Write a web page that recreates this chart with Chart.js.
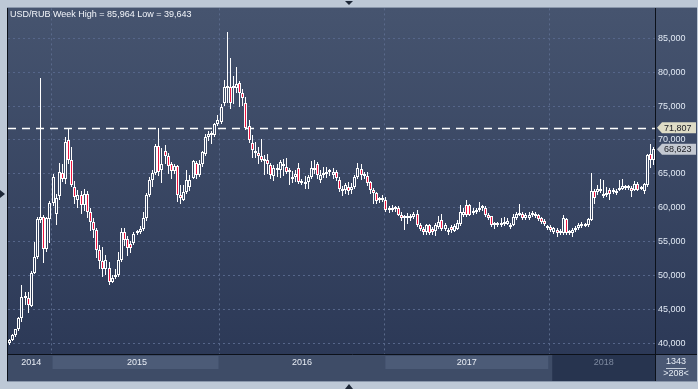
<!DOCTYPE html>
<html>
<head>
<meta charset="utf-8">
<script src="https://cdn.jsdelivr.net/npm/chart.js@4.4.1/dist/chart.umd.min.js"></script>
<style>
  html, body { margin: 0; padding: 0; background: #bdc8d6; }
  #wrap { position: relative; width: 698px; height: 389px; }
</style>
</head>
<body>
<div id="wrap"><canvas id="chartcontainer" width="698" height="389"></canvas></div>
<script>
// weekly USD/RUB candles (oct 2014 -> aug 2018)
var openPrices = [
  40.0, 40.5, 41.2, 42.0, 43.7, 46.6, 46.7, 45.4, 50.4, 52.7, 58.2, 58.6, 53.9, 58.3,
  60.7, 59.0, 61.7, 65.1, 64.2, 70.0, 67.0, 63.1, 61.2, 61.8, 60.4, 62.0, 59.4, 57.9, 56.7, 53.7,
  52.1, 50.9, 51.1, 49.05, 49.7, 50.0, 52.3, 56.4, 55.3, 54.6, 54.8, 56.2, 56.4, 56.9, 58.4, 61.8,
  64.05, 65.1, 69.06, 65.5, 68.4, 67.6, 66.5, 65.4, 66.1, 61.8, 61.2, 62.3, 63.0, 64.4, 66.6, 64.8,
  66.4, 67.9, 70.4, 70.9, 70.8, 72.3,
  72.7, 75.4, 77.7, 77.8, 77.6, 77.6, 78.4, 77.0, 75.4, 72.1, 69.6, 68.2, 68.1, 67.7, 66.9, 67.1,
  66.3, 64.6, 65.6, 65.6, 66.5, 66.0, 65.5, 64.5, 64.5, 65.8, 63.6, 63.8, 63.8, 64.5, 65.9, 66.5,
  64.1, 64.8, 65.0, 65.5, 64.8, 65.3, 64.05, 62.8, 62.6, 63.1, 62.6, 63.1, 64.5, 65.7, 64.7, 64.7,
  63.8, 62.6, 62.1, 61.1, 61.2,
  61.1, 59.6, 59.6, 59.8, 60.0, 58.9, 58.4, 58.4, 58.55, 58.6, 59.1, 57.4, 56.9, 56.4, 57.4, 56.9,
  56.6, 57.2, 58.2, 56.9, 56.7, 57.2, 56.6, 56.9, 57.6, 58.9, 60.4, 60.4, 59.2, 59.4, 59.6, 59.9,
  59.9, 58.9, 58.7, 57.5, 57.4, 57.6, 57.6, 57.6, 57.5, 57.5, 58.4, 58.9, 59.1, 58.4, 58.5, 58.9,
  59.1, 58.9, 58.4, 58.05, 57.26,
  57.16, 56.42, 56.77, 56.57, 56.18, 58.25, 56.42, 56.27, 56.67, 56.92, 57.26, 57.56, 57.41, 58.15,
  62.47, 62.33, 62.47, 61.99, 61.84, 62.57, 62.3, 62.1, 62.67, 62.82, 63.1, 62.9, 62.97, 62.67,
  63.56, 62.82, 62.47, 63.31, 67.9, 67.1
];
var highPrices = [
  40.6, 41.3, 42.1, 43.9, 48.6, 47.5, 47.5, 50.6, 54.9, 58.6, 79.2, 58.9, 58.6, 61.0,
  65.0, 62.0, 66.6, 66.5, 70.4, 71.8, 69.0, 64.0, 62.6, 62.5, 62.8, 62.5, 60.0, 58.5, 57.0, 54.5,
  54.2, 53.0, 52.0, 50.0, 51.0, 53.5, 57.0, 57.0, 55.8, 55.0, 56.4, 56.7, 57.3, 59.4, 62.2, 64.5,
  65.5, 69.4, 71.8, 68.8, 69.3, 68.0, 66.8, 66.5, 66.3, 63.3, 63.3, 65.5, 64.8, 67.0, 66.9, 67.0,
  68.4, 70.9, 71.3, 71.3, 72.5, 73.7,
  75.3, 78.8, 85.964, 82.15, 79.5, 80.8, 78.7, 77.5, 76.3, 72.9, 70.8, 69.7, 69.0, 70.2, 67.8, 67.9,
  66.6, 66.3, 66.4, 67.1, 67.2, 67.4, 65.9, 65.4, 65.5, 66.6, 64.3, 64.6, 64.8, 66.9, 67.0, 66.8,
  65.5, 66.0, 66.0, 65.7, 65.9, 65.6, 64.5, 63.2, 63.6, 63.8, 63.6, 64.8, 66.6, 66.5, 65.3, 65.3,
  64.0, 62.9, 62.3, 61.6, 61.8,
  61.5, 60.2, 60.4, 60.3, 60.3, 59.3, 58.9, 59.2, 59.0, 59.4, 59.6, 57.8, 57.2, 57.6, 57.6, 57.2,
  57.7, 58.7, 59.1, 57.7, 57.0, 57.5, 57.6, 58.2, 60.4, 59.9, 61.1, 60.6, 59.9, 60.0, 60.8, 60.4,
  60.2, 59.2, 58.8, 57.9, 57.9, 58.4, 58.6, 58.4, 57.8, 59.1, 59.4, 60.6, 59.4, 59.2, 59.3, 59.5,
  59.4, 59.1, 58.6, 58.3, 57.5,
  57.4, 57.2, 57.0, 56.8, 58.9, 58.5, 56.7, 57.0, 57.3, 57.8, 57.9, 57.8, 58.5, 65.13,
  62.7, 63.31, 64.3, 64.05, 63.06, 62.9, 62.9, 62.8, 64.05, 64.3, 63.4, 63.3, 63.2, 63.9,
  63.8, 63.2, 63.7, 67.9, 69.36, 68.9
];
var lowPrices = [
  39.643, 40.3, 40.9, 41.8, 43.1, 45.6, 44.4, 45.3, 50.2, 52.4, 57.8, 51.8, 53.5, 54.8,
  60.3, 57.5, 61.2, 63.8, 63.5, 66.5, 63.0, 60.5, 60.0, 59.0, 59.5, 58.5, 56.5, 55.5, 52.5, 51.0,
  49.8, 50.0, 48.55, 48.8, 49.5, 49.8, 52.0, 54.3, 52.8, 53.3, 54.5, 55.9, 56.1, 56.6, 58.0, 61.5,
  63.0, 64.8, 64.7, 63.6, 66.5, 65.0, 64.3, 65.0, 60.85, 60.6, 61.0, 62.0, 62.5, 64.2, 64.2, 64.5,
  66.0, 67.6, 69.8, 69.4, 70.4, 72.0,
  72.4, 75.0, 75.4, 74.6, 75.3, 77.0, 74.8, 75.0, 71.5, 69.5, 67.4, 67.3, 66.5, 66.8, 64.8, 65.0,
  64.2, 64.0, 64.5, 64.4, 64.7, 64.9, 63.4, 63.7, 63.8, 63.5, 63.4, 62.8, 62.8, 64.3, 65.0, 64.3,
  63.6, 64.4, 64.4, 64.6, 64.3, 64.0, 62.3, 61.7, 62.0, 61.9, 62.0, 62.8, 64.2, 64.1, 64.3, 63.2,
  62.0, 60.6, 60.6, 60.7, 60.9,
  59.3, 59.2, 59.3, 59.4, 58.7, 58.0, 56.7, 57.6, 58.0, 58.3, 57.2, 56.6, 56.0, 56.0, 55.9, 55.9,
  55.8, 56.8, 56.6, 56.5, 55.9, 56.3, 56.4, 56.7, 57.3, 58.6, 58.6, 58.7, 58.9, 59.1, 59.3, 59.5,
  58.6, 58.1, 57.1, 56.8, 57.1, 57.2, 57.3, 57.4, 56.9, 57.3, 58.2, 58.7, 58.1, 58.1, 58.2, 58.6,
  58.4, 58.0, 57.6, 57.3, 56.7,
  56.4, 56.1, 55.69, 55.9, 56.0, 56.0, 55.9, 55.69, 56.4, 56.7, 57.0, 57.1, 57.2, 58.0,
  60.61, 61.9, 62.2, 61.4, 61.5, 61.1, 62.0, 61.8, 62.4, 62.6, 62.6, 62.6, 61.6, 62.4,
  62.4, 62.6, 62.0, 63.1, 65.8, 66.3
];
var closePrices = [
  40.5, 41.2, 42.0, 43.7, 46.8, 46.9, 45.6, 50.4, 52.7, 58.3, 58.6, 53.9, 58.4, 60.7,
  64.5, 61.4, 65.3, 64.2, 69.7, 67.0, 63.4, 61.6, 61.8, 60.4, 62.0, 59.4, 57.9, 56.7, 53.7, 52.1,
  50.9, 52.2, 49.05, 49.6, 50.1, 52.3, 56.4, 55.2, 54.0, 54.0, 56.1, 56.4, 56.9, 58.4, 61.8, 64.05,
  65.1, 69.06, 65.3, 66.5, 67.6, 66.1, 65.4, 66.1, 61.8, 61.4, 62.3, 64.05, 64.1, 66.9, 64.8, 66.5,
  68.2, 70.4, 70.9, 70.7, 72.3, 73.0,
  74.8, 77.8, 77.9, 75.4, 77.9, 78.3, 77.0, 76.2, 71.8, 70.0, 68.5, 68.1, 67.6, 67.1, 67.2, 66.5,
  64.8, 65.9, 65.7, 66.7, 66.1, 65.3, 65.3, 64.2, 64.9, 63.8, 63.8, 63.5, 64.5, 65.9, 65.5, 64.8,
  64.8, 65.1, 65.3, 65.2, 65.3, 64.4, 62.8, 62.5, 63.3, 62.5, 63.0, 64.5, 65.8, 64.8, 64.9, 63.7,
  62.6, 62.1, 61.0, 61.2, 61.3,
  59.6, 59.7, 59.9, 59.9, 58.9, 58.4, 58.5, 58.55, 58.4, 59.1, 57.4, 56.9, 56.4, 57.4, 56.2, 56.4,
  57.4, 57.9, 56.9, 57.4, 56.4, 56.7, 57.3, 57.8, 59.4, 59.4, 58.9, 58.9, 59.4, 59.6, 59.9, 60.0,
  58.9, 58.5, 57.4, 57.4, 57.6, 57.4, 57.9, 58.05, 57.2, 58.6, 59.1, 59.2, 58.4, 58.9, 58.9, 59.1,
  58.7, 58.25, 57.9, 57.56, 56.92,
  56.67, 56.92, 56.18, 56.18, 58.4, 56.27, 56.18, 56.77, 57.01, 57.41, 57.56, 57.3, 58.25, 62.47,
  61.49, 62.82, 62.67, 61.69, 62.08, 62.0, 62.5, 62.5, 62.97, 63.2, 62.9, 62.97, 62.47, 63.56,
  62.67, 62.97, 63.45, 67.74, 67.1, 68.623
];

var yearLabels = ['2014', '2015', '2016', '2017', '2018'];
var yearStarts = [0, 14, 68, 121, 174];   // first candle of each year
var yTicks = [40, 45, 50, 55, 60, 65, 70, 75, 80, 85];
var markLevel = 71.807;                    // dashed level
var weekHigh = 85.964;
var weekLow = 39.643;
var footerText = ['1343', '>208<'];

var FONT = "'Liberation Sans', Arial, sans-serif";

function fmt(v) { return v.toFixed(3).replace('.', ','); }

var categories = [];
for (var i = 0; i < closePrices.length; i++) {
  var k = 0;
  while (k + 1 < yearStarts.length && i >= yearStarts[k + 1]) k++;
  categories.push(yearLabels[k]);
}
var yearMid = yearStarts.map(function (s, n) {
  var e = n + 1 < yearStarts.length ? yearStarts[n + 1] : closePrices.length;
  return Math.floor((s + e) / 2);
});

var bodies = [], wickTop = [], wickBottom = [], bodyColors = [];
for (var j = 0; j < closePrices.length; j++) {
  var o = openPrices[j], c = closePrices[j];
  bodies.push([o, c]);
  wickTop.push([Math.max(o, c), highPrices[j]]);
  wickBottom.push([lowPrices[j], Math.min(o, c)]);
  bodyColors.push(c < o ? '#ee1540' : 'rgba(0,0,0,0)');
}

var framePlugin = {
  id: 'frame',
  beforeDraw: function (chart) {
    var ctx = chart.ctx, a = chart.chartArea, xs = chart.scales.x;
    ctx.save();
    ctx.fillStyle = '#bdc8d6';
    ctx.fillRect(0, 0, chart.width, chart.height);
    var g = ctx.createLinearGradient(0, a.top, 0, a.bottom);
    g.addColorStop(0, '#46546f');
    g.addColorStop(1, '#2c3957');
    ctx.fillStyle = g;
    ctx.fillRect(8, 8, 689, a.bottom - 8);
    // year bar
    ctx.fillStyle = '#3e4c67';
    ctx.fillRect(8, a.bottom, 689, 381 - a.bottom);
    var half = (xs.getPixelForValue(1) - xs.getPixelForValue(0)) / 2;
    for (var n = 0; n < yearStarts.length; n++) {
      var s = yearStarts[n];
      var e = n + 1 < yearStarts.length ? yearStarts[n + 1] : closePrices.length;
      var left = xs.getPixelForValue(s) - half;
      var right = n + 1 < yearStarts.length ? xs.getPixelForValue(e) - half : a.right;
      if (n === 1 || n === 3) {
        ctx.fillStyle = '#4c5b77';
        ctx.fillRect(left + 1, a.bottom + 2, right - left - 2, 13);
      }
      if (n === yearStarts.length - 1) {
        ctx.fillStyle = '#27344f';
        ctx.fillRect(left + 3, a.bottom + 1, a.right - left - 3, 381 - a.bottom - 1);
      }
    }
    ctx.fillStyle = '#4a5874';
    ctx.fillRect(a.right + 1, a.bottom + 1, 697 - a.right - 1, 381 - a.bottom - 1);
    ctx.restore();
  },
  beforeDatasetsDraw: function (chart) {
    // snap the candles onto whole pixels so they stay crisp
    chart.data.datasets.forEach(function (ds, d) {
      chart.getDatasetMeta(d).data.forEach(function (el) {
        el.x = Math.floor(el.x) + 0.5;
        var top = Math.round(el.y), bot = Math.round(el.base);
        if (d === 0 && Math.abs(bot - top) < 2) bot = top + 2;
        el.y = top;
        el.base = bot;
      });
    });
    var ctx = chart.ctx, a = chart.chartArea;
    var y = Math.round(chart.scales.y.getPixelForValue(markLevel)) + 0.5;
    ctx.save();
    ctx.strokeStyle = '#ffffff';
    ctx.lineWidth = 1.5;
    ctx.setLineDash([8, 6]);
    ctx.beginPath();
    ctx.moveTo(a.left, y);
    ctx.lineTo(a.right, y);
    ctx.stroke();
    ctx.restore();
  },
  afterDraw: function (chart) {
    var ctx = chart.ctx, a = chart.chartArea, ys = chart.scales.y;
    ctx.save();
    // borders
    ctx.strokeStyle = '#0c111a';
    ctx.lineWidth = 1;
    ctx.beginPath();
    ctx.moveTo(7.5, 7); ctx.lineTo(7.5, 381);
    ctx.moveTo(a.right + 0.5, 8); ctx.lineTo(a.right + 0.5, 381);
    ctx.moveTo(8, a.bottom + 0.5); ctx.lineTo(697, a.bottom + 0.5);
    ctx.stroke();
    ctx.strokeStyle = '#8a97ab';
    ctx.beginPath();
    ctx.moveTo(7, 7.5); ctx.lineTo(697, 7.5);
    ctx.moveTo(7, 381.5); ctx.lineTo(697, 381.5);
    ctx.stroke();

    // title
    ctx.font = '9px ' + FONT;
    ctx.fillStyle = '#f2f5fa';
    ctx.textBaseline = 'middle';
    ctx.textAlign = 'left';
    ctx.fillText('USD/RUB Week High = ' + fmt(weekHigh) + ' Low = ' + fmt(weekLow), 10, 15);

    // price markers on the right axis
    var marks = [
      { v: markLevel, fill: '#dedcc6' },
      { v: closePrices[closePrices.length - 1], fill: '#c3c8d1' }
    ];
    marks.forEach(function (m) {
      var y = ys.getPixelForValue(m.v);
      ctx.fillStyle = m.fill;
      ctx.beginPath();
      ctx.moveTo(a.right + 2, y);
      ctx.lineTo(a.right + 7, y - 5.5);
      ctx.lineTo(696, y - 5.5);
      ctx.lineTo(696, y + 5.5);
      ctx.lineTo(a.right + 7, y + 5.5);
      ctx.closePath();
      ctx.fill();
      ctx.fillStyle = '#1a1c22';
      ctx.fillText(fmt(m.v), a.right + 9, y + 0.5);
    });

    // footer box
    ctx.fillStyle = '#e6ecf5';
    ctx.textAlign = 'center';
    var cx = (a.right + 697) / 2;
    ctx.fillText(footerText[0], cx, a.bottom + 8);
    ctx.fillText(footerText[1], cx, a.bottom + 20);
    ctx.strokeStyle = '#c8d0dc';
    ctx.beginPath();
    ctx.moveTo(cx - 10, a.bottom + 14.5); ctx.lineTo(cx + 10, a.bottom + 14.5);
    ctx.stroke();

    // little arrows on the outer frame
    ctx.fillStyle = '#1c2636';
    ctx.beginPath();
    ctx.moveTo(345, 1); ctx.lineTo(353, 1); ctx.lineTo(349, 5); ctx.closePath();
    ctx.moveTo(345, 389); ctx.lineTo(353, 389); ctx.lineTo(349, 384); ctx.closePath();
    ctx.moveTo(0, 190); ctx.lineTo(5, 194); ctx.lineTo(0, 198); ctx.closePath();
    ctx.fill();
    ctx.restore();
  }
};

var ctx = document.getElementById('chartcontainer').getContext('2d');
var chart = new Chart(ctx, {
  type: 'bar',
  data: {
    labels: categories,
    datasets: [
      {
        data: bodies,
        backgroundColor: bodyColors,
        borderColor: '#ffffff',
        borderWidth: 1,
        borderSkipped: false,
        barThickness: 3,
        minBarLength: 2,
        inflateAmount: 0,
        grouped: false,
        order: 0
      },
      {
        data: wickTop,
        backgroundColor: '#ffffff',
        borderWidth: 0,
        barThickness: 1,
        inflateAmount: 0,
        grouped: false,
        order: 1
      },
      {
        data: wickBottom,
        backgroundColor: '#ffffff',
        borderWidth: 0,
        barThickness: 1,
        inflateAmount: 0,
        grouped: false,
        order: 2
      }
    ]
  },
  options: {
    responsive: false,
    animation: false,
    devicePixelRatio: 1,
    events: [],
    layout: { padding: { left: 8, top: 8, right: 1, bottom: 0 } },
    plugins: {
      legend: { display: false },
      tooltip: { enabled: false }
    },
    scales: {
      x: {
        type: 'category',
        offset: true,
        grid: {
          offset: true,
          drawTicks: false,
          color: function (c) {
            return yearStarts.indexOf(c.index) > 0 ? '#5a6a8b' : 'rgba(0,0,0,0)';
          }
        },
        border: { display: false, dash: [2, 3] },
        ticks: {
          autoSkip: false,
          maxRotation: 0,
          minRotation: 0,
          padding: 3,
          font: { family: FONT, size: 9 },
          color: function (c) {
            return c.index >= yearStarts[yearStarts.length - 1] ? '#7e8aa0' : '#e8edf5';
          },
          callback: function (value, index) {
            var n = yearMid.indexOf(index);
            return n >= 0 ? yearLabels[n] : '';
          }
        },
        afterFit: function (s) { s.height = 35; }
      },
      y: {
        position: 'right',
        min: 38.38,
        max: 89.43,
        grid: { color: '#56668a', drawTicks: false },
        border: { display: false, dash: [2, 3] },
        ticks: {
          padding: 3,
          font: { family: FONT, size: 9 },
          color: '#e2eaf5',
          callback: function (v) { return fmt(v); }
        },
        afterBuildTicks: function (s) {
          s.ticks = yTicks.map(function (v) { return { value: v }; });
        },
        afterFit: function (s) { s.width = 42; }
      }
    }
  },
  plugins: [framePlugin]
});
</script>
</body>
</html>
